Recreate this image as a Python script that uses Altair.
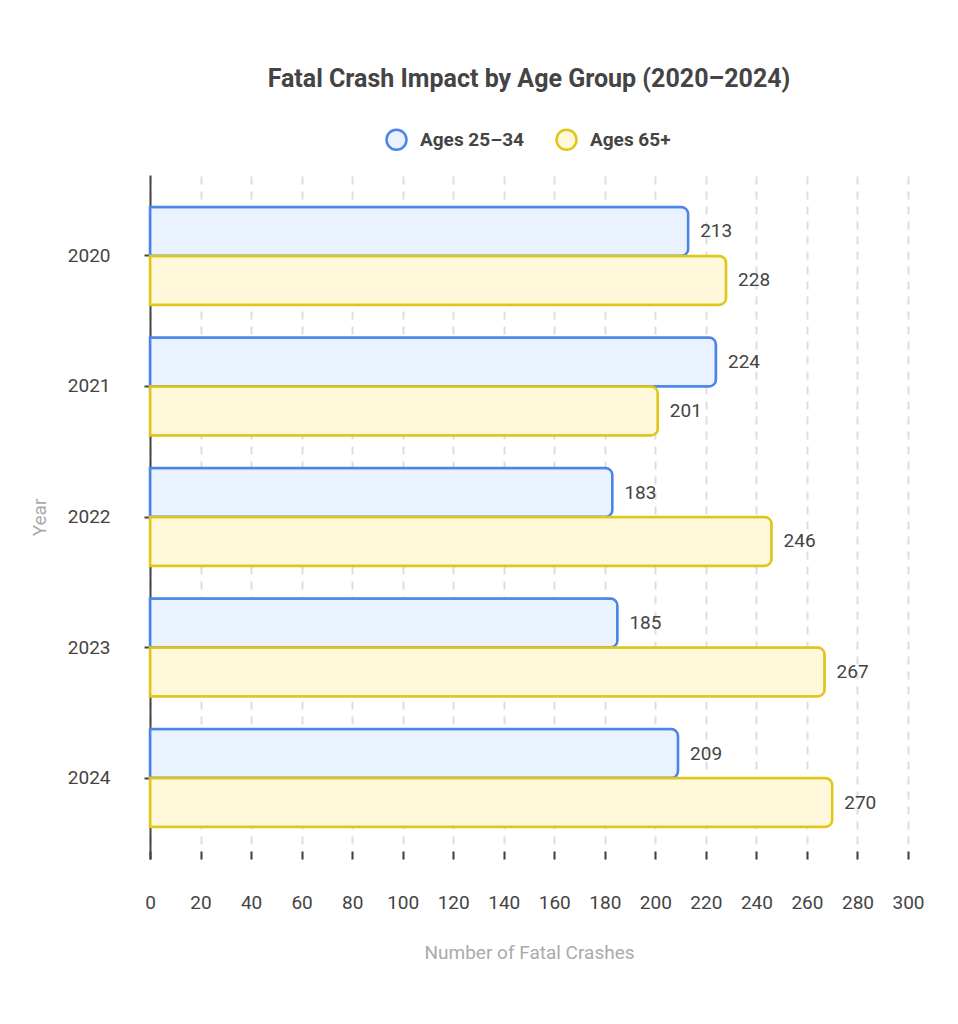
import altair as alt
import pandas as pd

years = ["2020", "2021", "2022", "2023", "2024"]
groups = ["Ages 25–34", "Ages 65+"]
ages_25_34 = [213, 224, 183, 185, 209]
ages_65_plus = [228, 201, 246, 267, 270]
x_ticks = list(range(0, 301, 20))

rows = []
for i, y in enumerate(years):
    rows.append({"Year": y, "Group": groups[0], "Value": ages_25_34[i]})
    rows.append({"Year": y, "Group": groups[1], "Value": ages_65_plus[i]})
df = pd.DataFrame(rows)

FONT = "Roboto"
FS = 19
stroke_colors = ["#4A86E8", "#E0C61A"]
fill_colors = ["#EAF2FF", "#FFF8DA"]

y_enc = alt.Y("Year:N", sort=years,
              scale=alt.Scale(paddingInner=0.25, paddingOuter=0.245),
              axis=alt.Axis(title="Year", labelFontSize=FS, labelColor="#444",
                            labelFont=FONT, labelPadding=34, tickSize=6, tickWidth=2,
                            tickColor="#444", domainColor="#444", domainWidth=2,
                            titleColor="#aaa", titleFontSize=FS, titleFont=FONT,
                            titleFontWeight="normal", titlePadding=18, grid=False))
x_scale = alt.Scale(domain=[0, 300], nice=False)

bars = alt.Chart(df).mark_bar(strokeWidth=2.5, cornerRadiusEnd=7).encode(
    x=alt.X("Value:Q", scale=x_scale,
            axis=alt.Axis(title="Number of Fatal Crashes", values=x_ticks,
                          labelFontSize=FS, labelColor="#444", labelFont=FONT,
                          labelFlush=False, labelOverlap=False,
                          labelPadding=34, tickSize=8, tickWidth=2, tickColor="#444",
                          domain=False, offset=-8, grid=True, gridColor="#dedede",
                          gridWidth=2, gridDash=[8, 7], titleColor="#aaa",
                          titleFontSize=FS, titleFont=FONT, titleFontWeight="normal",
                          titlePadding=31)),
    y=y_enc,
    yOffset=alt.YOffset("Group:N", sort=groups, scale=alt.Scale(paddingInner=0, paddingOuter=0)),
    fill=alt.Fill("Group:N", sort=groups,
                  scale=alt.Scale(domain=groups, range=fill_colors),
                  legend=alt.Legend(title=None, orient="none", direction="horizontal",
                                    legendX=235, legendY=-47, symbolType="circle",
                                    symbolSize=400, symbolStrokeWidth=2.5,
                                    labelFontSize=FS, labelFontWeight="bold",
                                    labelColor="#444", labelFont=FONT, columnPadding=27,
                                    labelOffset=12, padding=0)),
    stroke=alt.Stroke("Group:N", sort=groups,
                      scale=alt.Scale(domain=groups, range=stroke_colors),
                      legend=None),
)

labels = alt.Chart(df).mark_text(align="left", baseline="middle", dx=12,
                                 fontSize=FS, color="#444", font=FONT).encode(
    x=alt.X("Value:Q", scale=x_scale),
    y=alt.Y("Year:N", sort=years),
    yOffset=alt.YOffset("Group:N", sort=groups),
    text=alt.Text("Value:Q"),
)

chart = alt.layer(bars, labels).properties(
    width=758, height=684,
    background="white",
    padding={"left": 22, "top": 59, "right": 10, "bottom": 10},
    title=alt.TitleParams("Fatal Crash Impact by Age Group (2020–2024)", font=FONT,
                          fontSize=25, fontWeight="bold", color="#444",
                          anchor="middle", offset=36),
).configure_view(strokeWidth=0)

chart.save("out.html", embed_options={"renderer": "svg", "actions": False})
